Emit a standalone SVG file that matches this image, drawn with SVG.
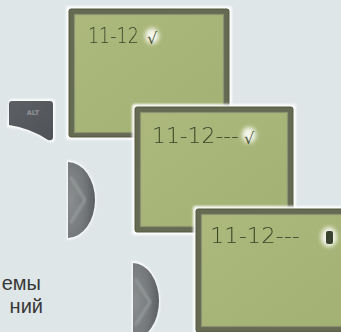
<svg xmlns="http://www.w3.org/2000/svg" width="341" height="332" viewBox="0 0 341 332">
  <defs>
    <filter id="halo" x="-10%" y="-10%" width="120%" height="120%">
      <feGaussianBlur stdDeviation="1.2"/>
    </filter>
    <filter id="soft" x="-10%" y="-10%" width="120%" height="120%">
      <feGaussianBlur stdDeviation="0.45"/>
    </filter>
    <filter id="glow" x="-50%" y="-50%" width="200%" height="200%">
      <feGaussianBlur stdDeviation="2"/>
    </filter>
    <linearGradient id="lcd" x1="0" y1="0" x2="1" y2="1">
      <stop offset="0" stop-color="#adb97c"/>
      <stop offset="1" stop-color="#a3b174"/>
    </linearGradient>
    <linearGradient id="key" x1="0" y1="0" x2="1" y2="1">
      <stop offset="0" stop-color="#5c6065"/>
      <stop offset="1" stop-color="#4f5358"/>
    </linearGradient>
    <radialGradient id="btn" cx="0.1" cy="0.5" r="0.9">
      <stop offset="0" stop-color="#8a8e8f"/>
      <stop offset="0.6" stop-color="#74787a"/>
      <stop offset="1" stop-color="#5a5e61"/>
    </radialGradient>
    <style>
      .halo { fill: #ffffff; filter: url(#halo); opacity: 0.95; }
      .frame { fill: #656a53; stroke: #55593f; stroke-width: 1; }
      .rim { fill: none; stroke: #8c9370; stroke-width: 1.2; }
      .lcd { fill: url(#lcd); }
      .seg { font-family: "DejaVu Sans", "Liberation Sans", sans-serif; font-weight: 200; fill: #3a4628; filter: url(#soft); }
      .chk { font-family: "DejaVu Sans", sans-serif; font-size: 16px; fill: #4a5436; }
      .spot { fill: #f4f6ea; filter: url(#glow); }
      .chev { fill: none; stroke: #9a9e9f; stroke-width: 3; stroke-linecap: round; stroke-linejoin: round; filter: url(#halo); opacity: 0.8; }
      .cap { font-family: "Liberation Sans", "Noto Sans", sans-serif; font-size: 20px; fill: #383838; }
    </style>
  </defs>

  <rect width="341" height="332" fill="#dee6e8"/>

  <g id="connectors"/>

  <g id="alt-key">
    <path class="halo" d="M 9,102 Q 9,99 12,99 L 51,99 Q 55,99 55,103 L 55,138 Q 55,143 49,142 Q 30,129 7,127 Z"/>
    <path d="M 9,104 Q 9,101 12,101 L 50,101 Q 53,101 53,104 L 53,137 Q 53,141 48,140 Q 30,128 9,125 Z" fill="url(#key)"/>
    <text x="33" y="115" text-anchor="middle" font-family="DejaVu Sans, sans-serif" font-size="6.5" font-weight="bold" fill="#8e9296">ALT</text>
  </g>

  <g id="button-1">
    <path class="halo" d="M 67,160 A 29 40 0 0 1 67,240 Z"/>
    <path d="M 68,162 A 27 38 0 0 1 68,238 Z" fill="url(#btn)"/>
    <polyline class="chev" points="71,178 85,200 71,222"/>
  </g>

  <g id="button-2">
    <path class="halo" d="M 132,261 A 28 40 0 0 1 132,341 Z"/>
    <path d="M 133,263 A 26 38 0 0 1 133,339 Z" fill="url(#btn)"/>
    <polyline class="chev" points="136,280 150,302 136,324"/>
  </g>

  <g id="screen-1">
    <rect class="halo" x="66" y="6" width="166" height="134" rx="3"/>
    <rect class="frame" x="69" y="9" width="160" height="128" rx="2"/>
    <rect class="lcd" x="75" y="15" width="148" height="117"/>
    <rect class="rim" x="74.5" y="14.5" width="149" height="118"/>
    <ellipse class="spot" cx="152" cy="36" rx="7" ry="8"/>
    <text class="seg" font-size="17.5" transform="translate(88,43) scale(1,1.2)">11-12</text>
    <text class="chk" x="147" y="44">√</text>
  </g>

  <g id="screen-2">
    <rect class="halo" x="132" y="104" width="164" height="131" rx="3"/>
    <rect class="frame" x="135" y="107" width="158" height="125" rx="2"/>
    <rect class="lcd" x="141" y="113" width="146" height="113"/>
    <rect class="rim" x="140.5" y="112.5" width="147" height="114"/>
    <ellipse class="spot" cx="249" cy="135" rx="7" ry="8"/>
    <text class="seg" font-size="21" x="152" y="143" textLength="87" lengthAdjust="spacingAndGlyphs">11-12---</text>
    <text class="chk" x="244" y="144">√</text>
  </g>

  <g id="screen-3">
    <rect class="halo" x="193" y="206" width="166" height="130" rx="3"/>
    <rect class="frame" x="196" y="209" width="160" height="123" rx="2"/>
    <rect class="lcd" x="202" y="215" width="150" height="111"/>
    <rect class="rim" x="201.5" y="214.5" width="151" height="112"/>
    <ellipse class="spot" cx="329" cy="237" rx="8" ry="10"/>
    <text class="seg" font-size="21" x="210" y="243" textLength="90" lengthAdjust="spacingAndGlyphs">11-12---</text>
    <rect x="326" y="231" width="7" height="13" rx="2" fill="#3a4230"/>
  </g>

  <g id="caption">
    <text class="cap" x="41" y="290" text-anchor="end">емы</text>
    <text class="cap" x="43" y="313" text-anchor="end">ний</text>
  </g>
</svg>
